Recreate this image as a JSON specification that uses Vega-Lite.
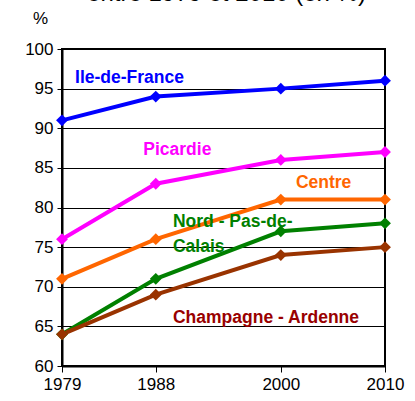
{
  "$schema": "https://vega.github.io/schema/vega-lite/v6.json",
  "width": 323,
  "height": 317,
  "autosize": {"type": "none"},
  "padding": {"left": 62, "top": 49, "right": 30, "bottom": 35},
  "background": "white",
  "title": {"text": "entre 1979 et 2010 (en %)", "fontSize": 24, "font": "Liberation Sans", "fontWeight": "normal", "color": "black", "anchor": "middle", "frame": "group", "offset": 3, "dx": 3},
  "config": {
    "view": {"stroke": "black", "strokeWidth": 2},
    "font": "Liberation Sans"
  },
  "datasets": {
    "series": [
      {"region": "Ile-de-France", "year": 1979, "value": 91},
      {"region": "Ile-de-France", "year": 1988, "value": 94},
      {"region": "Ile-de-France", "year": 2000, "value": 95},
      {"region": "Ile-de-France", "year": 2010, "value": 96},
      {"region": "Picardie", "year": 1979, "value": 76},
      {"region": "Picardie", "year": 1988, "value": 83},
      {"region": "Picardie", "year": 2000, "value": 86},
      {"region": "Picardie", "year": 2010, "value": 87},
      {"region": "Centre", "year": 1979, "value": 71},
      {"region": "Centre", "year": 1988, "value": 76},
      {"region": "Centre", "year": 2000, "value": 81},
      {"region": "Centre", "year": 2010, "value": 81},
      {"region": "Nord - Pas-de-Calais", "year": 1979, "value": 64},
      {"region": "Nord - Pas-de-Calais", "year": 1988, "value": 71},
      {"region": "Nord - Pas-de-Calais", "year": 2000, "value": 77},
      {"region": "Nord - Pas-de-Calais", "year": 2010, "value": 78},
      {"region": "Champagne - Ardenne", "year": 1979, "value": 64},
      {"region": "Champagne - Ardenne", "year": 1988, "value": 69},
      {"region": "Champagne - Ardenne", "year": 2000, "value": 74},
      {"region": "Champagne - Ardenne", "year": 2010, "value": 75}
    ],
    "labels": [
      {"region": "Ile-de-France", "text": "Ile-de-France", "year": 1980.25, "value": 96.35, "tcolor": "#0000FF"},
      {"region": "Picardie", "text": "Picardie", "year": 1986.8, "value": 87.25, "tcolor": "#FF00FF"},
      {"region": "Centre", "text": "Centre", "year": 2001.45, "value": 83.1, "tcolor": "#FF6600"},
      {"region": "Nord - Pas-de-Calais", "text": "Nord - Pas-de-", "year": 1989.65, "value": 78.17, "tcolor": "#008000"},
      {"region": "Nord - Pas-de-Calais", "text": "Calais", "year": 1989.65, "value": 75.0, "tcolor": "#008000"},
      {"region": "Champagne - Ardenne", "text": "Champagne - Ardenne", "year": 1989.65, "value": 66.05, "tcolor": "#990000"}
    ]
  },
  "layer": [
    {
      "data": {"name": "series"},
      "mark": {"type": "line", "strokeWidth": 4, "point": {"shape": "diamond", "size": 140, "filled": true, "opacity": 1}},
      "encoding": {
        "x": {"field": "year", "type": "quantitative", "scale": {"domain": [1979, 2010], "nice": false, "zero": false},
          "axis": {"values": [1979, 1988, 2000, 2010], "format": "d", "title": null, "grid": false, "domain": true, "domainColor": "black", "domainWidth": 2,
            "tickColor": "black", "tickSize": 6, "tickWidth": 1, "labelFontSize": 17, "labelColor": "black", "labelPadding": 4, "labelFlush": false, "labelOverlap": false}},
        "y": {"field": "value", "type": "quantitative", "scale": {"domain": [60, 100], "nice": false, "zero": false},
          "axis": {"values": [60, 65, 70, 75, 80, 85, 90, 95, 100], "title": "%", "titleAngle": 0, "titleX": -22, "titleY": -31, "titleAlign": "center", "titleBaseline": "middle", "titleFontSize": 17, "titleFontWeight": "normal", "titleColor": "black",
            "grid": true, "gridColor": "black", "gridWidth": 1, "gridOpacity": 1, "domain": true, "domainColor": "black", "domainWidth": 2,
            "tickColor": "black", "tickSize": 5, "tickWidth": 1, "labelFontSize": 17, "labelColor": "black", "labelPadding": 4, "labelOverlap": false}},
        "color": {"field": "region", "type": "nominal",
          "scale": {"domain": ["Ile-de-France", "Picardie", "Centre", "Nord - Pas-de-Calais", "Champagne - Ardenne"],
            "range": ["#0000FF", "#FF00FF", "#FF6600", "#008000", "#993300"]}, "legend": null}
      }
    },
    {
      "data": {"name": "labels"},
      "mark": {"type": "text", "align": "left", "baseline": "middle", "fontWeight": "bold", "fontSize": 17.5},
      "encoding": {
        "x": {"field": "year", "type": "quantitative", "scale": {"domain": [1979, 2010], "nice": false, "zero": false},
          "axis": {"values": [1979, 1988, 2000, 2010], "format": "d", "title": null, "grid": false, "domain": true, "domainColor": "black", "domainWidth": 2,
            "tickColor": "black", "tickSize": 6, "tickWidth": 1, "labelFontSize": 17, "labelColor": "black", "labelPadding": 4, "labelFlush": false, "labelOverlap": false}},
        "y": {"field": "value", "type": "quantitative", "scale": {"domain": [60, 100], "nice": false, "zero": false},
          "axis": {"values": [60, 65, 70, 75, 80, 85, 90, 95, 100], "title": "%", "titleAngle": 0, "titleX": -22, "titleY": -31, "titleAlign": "center", "titleBaseline": "middle", "titleFontSize": 17, "titleFontWeight": "normal", "titleColor": "black",
            "grid": true, "gridColor": "black", "gridWidth": 1, "gridOpacity": 1, "domain": true, "domainColor": "black", "domainWidth": 2,
            "tickColor": "black", "tickSize": 5, "tickWidth": 1, "labelFontSize": 17, "labelColor": "black", "labelPadding": 4, "labelOverlap": false}},
        "text": {"field": "text"},
        "color": {"field": "tcolor", "type": "nominal", "scale": null, "legend": null}
      }
    }
  ]
}
